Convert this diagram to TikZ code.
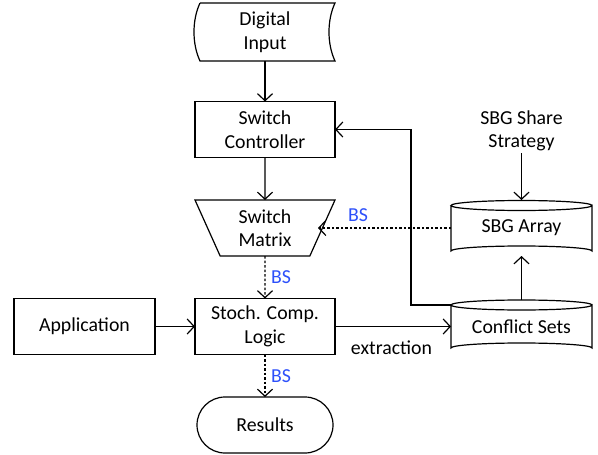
\documentclass[tikz,border=0pt]{standalone}
\usepackage{fontspec}
\setmainfont{Carlito}
\usetikzlibrary{arrows.meta,shapes.geometric,shapes.misc}
\definecolor{bsblue}{RGB}{45,80,250}
\begin{document}
\begin{tikzpicture}[x=1pt,y=-1pt,
  font=\fontsize{19.8}{23.5}\selectfont,
  every node/.style={outer sep=0pt, inner sep=2pt, align=center},
  line/.style={line width=1.2pt},
  arr/.style={line width=1.2pt,-{Straight Barb[length=7pt,width=15pt,line width=1.2pt]}},
  dotarr/.style={arr,dash pattern=on 2.5pt off 2pt},
  boxn/.style={draw,line width=1.2pt,rectangle,minimum width=140pt,minimum height=56pt},
  ghost/.style={rectangle,minimum width=141pt,minimum height=56pt},
  bslabel/.style={text=bsblue}
]
\useasboundingbox (0,0) rectangle (598,455);
% Digital input
\draw[line] (200,3) -- (335,3) .. controls (327,20) and (327,44) .. (335,61)
  -- (200,61) .. controls (192,44) and (192,20) .. (200,3);
\node[rectangle,minimum width=140pt,minimum height=58pt] (din) at (265,32) {Digital\\Input};
% Switch controller
\node[boxn] (sc) at (265,129.5) {Switch\\Controller};
% Switch matrix
\node[trapezium,draw,line width=1.2pt,shape border rotate=180,trapezium angle=58.7,
  trapezium stretches body,minimum width=140pt,minimum height=56pt] (sm) at (265,228) {Switch\\Matrix};
% Stoch comp logic
\node[boxn] (scl) at (265,326.5) {Stoch. Comp.\\Logic};
% Application
\node[boxn,minimum width=141pt] (app) at (84.5,326.5) {Application};
% Results
\node[rounded rectangle,draw,line width=1.2pt,minimum width=140pt,minimum height=56pt] (res) at (265,425) {Results};
% SBG Array cylinder
\node[ghost] (sbg) at (521.5,228) {SBG Array};
\draw[line] (451,205.5) -- (451,251) arc[start angle=180,end angle=360,x radius=70.5,y radius=5]
  -- (592,205.5) arc[start angle=0,end angle=360,x radius=70.5,y radius=5];
% Conflict sets cylinder
\node[ghost,minimum height=53pt] (cs) at (521.5,326.5) {Conflict Sets};
\draw[line] (451,305) -- (451,348) arc[start angle=180,end angle=360,x radius=70.5,y radius=5]
  -- (592,305) arc[start angle=0,end angle=360,x radius=70.5,y radius=5];
\coordinate (csTL) at (451,305);
% SBG share strategy
\node (sss) at (521.5,131) {SBG Share\\Strategy};
% connectors
\draw[arr] (din.south) -- (sc.north);
\draw[arr] (sc.south) -- (sm.north);
\draw[dotarr] (sm.south) -- node[bslabel,right=4pt,pos=0.5] (bs1) {BS} (scl.north);
\draw[dotarr] (scl.south) -- node[bslabel,right=4pt,pos=0.5] (bs2) {BS} (res.north);
\draw[arr] (app.east) -- (scl.west);
\draw[arr] (scl.east) -- (cs.west);
\node (ext) at (391.5,348) {extraction};
\draw[arr] (cs.north) -- (sbg.south);
\draw[arr] (sss.south) -- (sbg.north);
\coordinate (smR) at (318,228);
\draw[dotarr] (sbg.west) -- (smR);
\node[bslabel] (bs3) at (358,215) {BS};
\draw[arr] (csTL) -- ++(-40,0) |- (sc.east);
\end{tikzpicture}
\end{document}
